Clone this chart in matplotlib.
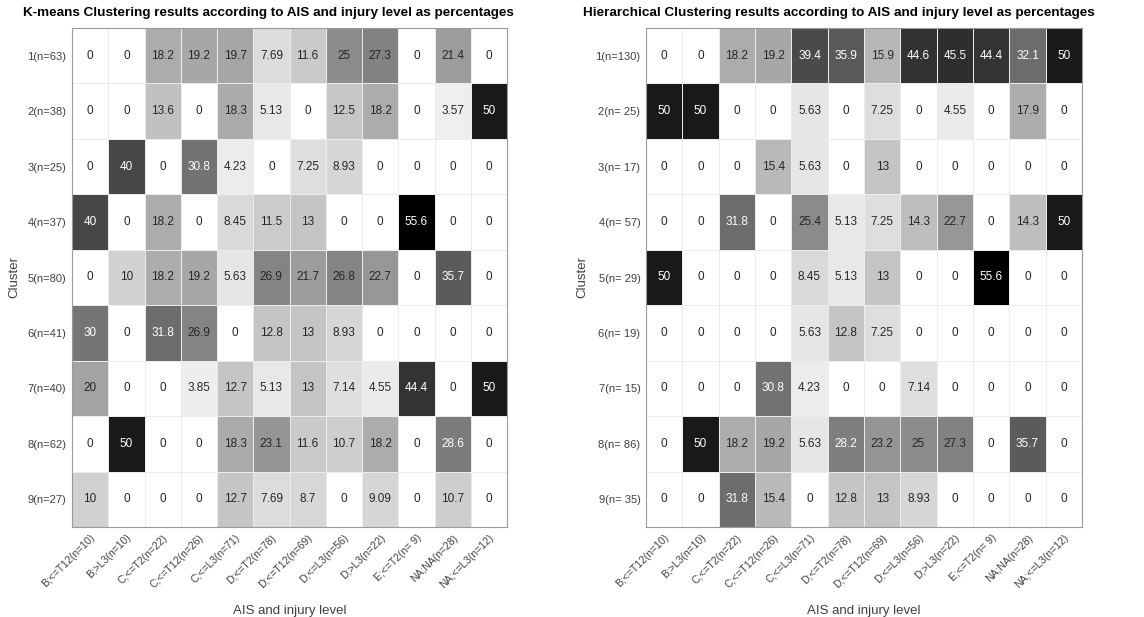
import numpy as np
import matplotlib.pyplot as plt

plt.rcParams['font.family'] = ['Liberation Sans', 'DejaVu Sans']

injury_levels = ['B;<=T12(n=10)', 'B;>L3(n=10)', 'C;<=T2(n=22)', 'C;<=T12(n=26)',
                 'C;<=L3(n=71)', 'D;<=T2(n=78)', 'D;<=T12(n=69)', 'D;<=L3(n=56)',
                 'D;>L3(n=22)', 'E;<=T2(n= 9)', 'NA;NA(n=28)', 'NA;<=L3(n=12)']

kmeans_clusters = ['1(n=63)', '2(n=38)', '3(n=25)', '4(n=37)', '5(n=80)',
                   '6(n=41)', '7(n=40)', '8(n=62)', '9(n=27)']
kmeans_pct = [
    [0, 0, 18.2, 19.2, 19.7, 7.69, 11.6, 25, 27.3, 0, 21.4, 0],
    [0, 0, 13.6, 0, 18.3, 5.13, 0, 12.5, 18.2, 0, 3.57, 50],
    [0, 40, 0, 30.8, 4.23, 0, 7.25, 8.93, 0, 0, 0, 0],
    [40, 0, 18.2, 0, 8.45, 11.5, 13, 0, 0, 55.6, 0, 0],
    [0, 10, 18.2, 19.2, 5.63, 26.9, 21.7, 26.8, 22.7, 0, 35.7, 0],
    [30, 0, 31.8, 26.9, 0, 12.8, 13, 8.93, 0, 0, 0, 0],
    [20, 0, 0, 3.85, 12.7, 5.13, 13, 7.14, 4.55, 44.4, 0, 50],
    [0, 50, 0, 0, 18.3, 23.1, 11.6, 10.7, 18.2, 0, 28.6, 0],
    [10, 0, 0, 0, 12.7, 7.69, 8.7, 0, 9.09, 0, 10.7, 0],
]

hier_clusters = ['1(n=130)', '2(n= 25)', '3(n= 17)', '4(n= 57)', '5(n= 29)',
                 '6(n= 19)', '7(n= 15)', '8(n= 86)', '9(n= 35)']
hier_pct = [
    [0, 0, 18.2, 19.2, 39.4, 35.9, 15.9, 44.6, 45.5, 44.4, 32.1, 50],
    [50, 50, 0, 0, 5.63, 0, 7.25, 0, 4.55, 0, 17.9, 0],
    [0, 0, 0, 15.4, 5.63, 0, 13, 0, 0, 0, 0, 0],
    [0, 0, 31.8, 0, 25.4, 5.13, 7.25, 14.3, 22.7, 0, 14.3, 50],
    [50, 0, 0, 0, 8.45, 5.13, 13, 0, 0, 55.6, 0, 0],
    [0, 0, 0, 0, 5.63, 12.8, 7.25, 0, 0, 0, 0, 0],
    [0, 0, 0, 30.8, 4.23, 0, 0, 7.14, 0, 0, 0, 0],
    [0, 50, 18.2, 19.2, 5.63, 28.2, 23.2, 25, 27.3, 0, 35.7, 0],
    [0, 0, 31.8, 15.4, 0, 12.8, 13, 8.93, 0, 0, 0, 0],
]

W, H = 1144, 617
fig = plt.figure(figsize=(W / 100, H / 100), dpi=100)

label_col = '#404040'


def heatmap(ax, data, rows):
    data = np.array(data, dtype=float)
    vmax = data.max()
    ax.pcolormesh(data, cmap='gray_r', vmin=0, vmax=vmax,
                  edgecolor='#ececec', linewidth=0.5)
    ax.set_xlim(0, data.shape[1])
    ax.set_ylim(data.shape[0], 0)
    for i in range(data.shape[0]):
        for j in range(data.shape[1]):
            v = data[i, j]
            shade = 1 - v / vmax
            ax.text(j + 0.5, i + 0.5, '{:.3g}'.format(v), ha='center', va='center',
                    fontsize=8.5, color='white' if shade < 0.5 else '#262626')
    ax.set_xticks(np.arange(data.shape[1]) + 0.5)
    ax.set_xticklabels(injury_levels, rotation=45, ha='right', rotation_mode='anchor',
                       fontsize=7.5, color=label_col)
    ax.set_yticks(np.arange(data.shape[0]) + 0.5)
    ax.set_yticklabels(rows, fontsize=8, color=label_col)
    ax.tick_params(length=0, pad=4)
    for s in ax.spines.values():
        s.set_color('#9a9a9a')
        s.set_linewidth(0.8)
    ax.set_xlabel('AIS and injury level', fontsize=9.5, color=label_col, labelpad=11)
    ax.set_ylabel('Cluster', fontsize=9.5, color=label_col, labelpad=5)


ax1 = fig.add_axes([72 / W, 90 / H, 435 / W, 499 / H])
heatmap(ax1, kmeans_pct, kmeans_clusters)

ax2 = fig.add_axes([646 / W, 90 / H, 436 / W, 499 / H])
heatmap(ax2, hier_pct, hier_clusters)

fig.text(268 / W, 1 - 13 / H,
         'K-means Clustering results according to AIS and injury level as percentages',
         ha='center', va='center', fontsize=9.7, fontweight='bold')
fig.text(839 / W, 1 - 13 / H,
         'Hierarchical Clustering results according to AIS and injury level as percentages',
         ha='center', va='center', fontsize=9.7, fontweight='bold')

fig.savefig('out.png', dpi=100)
